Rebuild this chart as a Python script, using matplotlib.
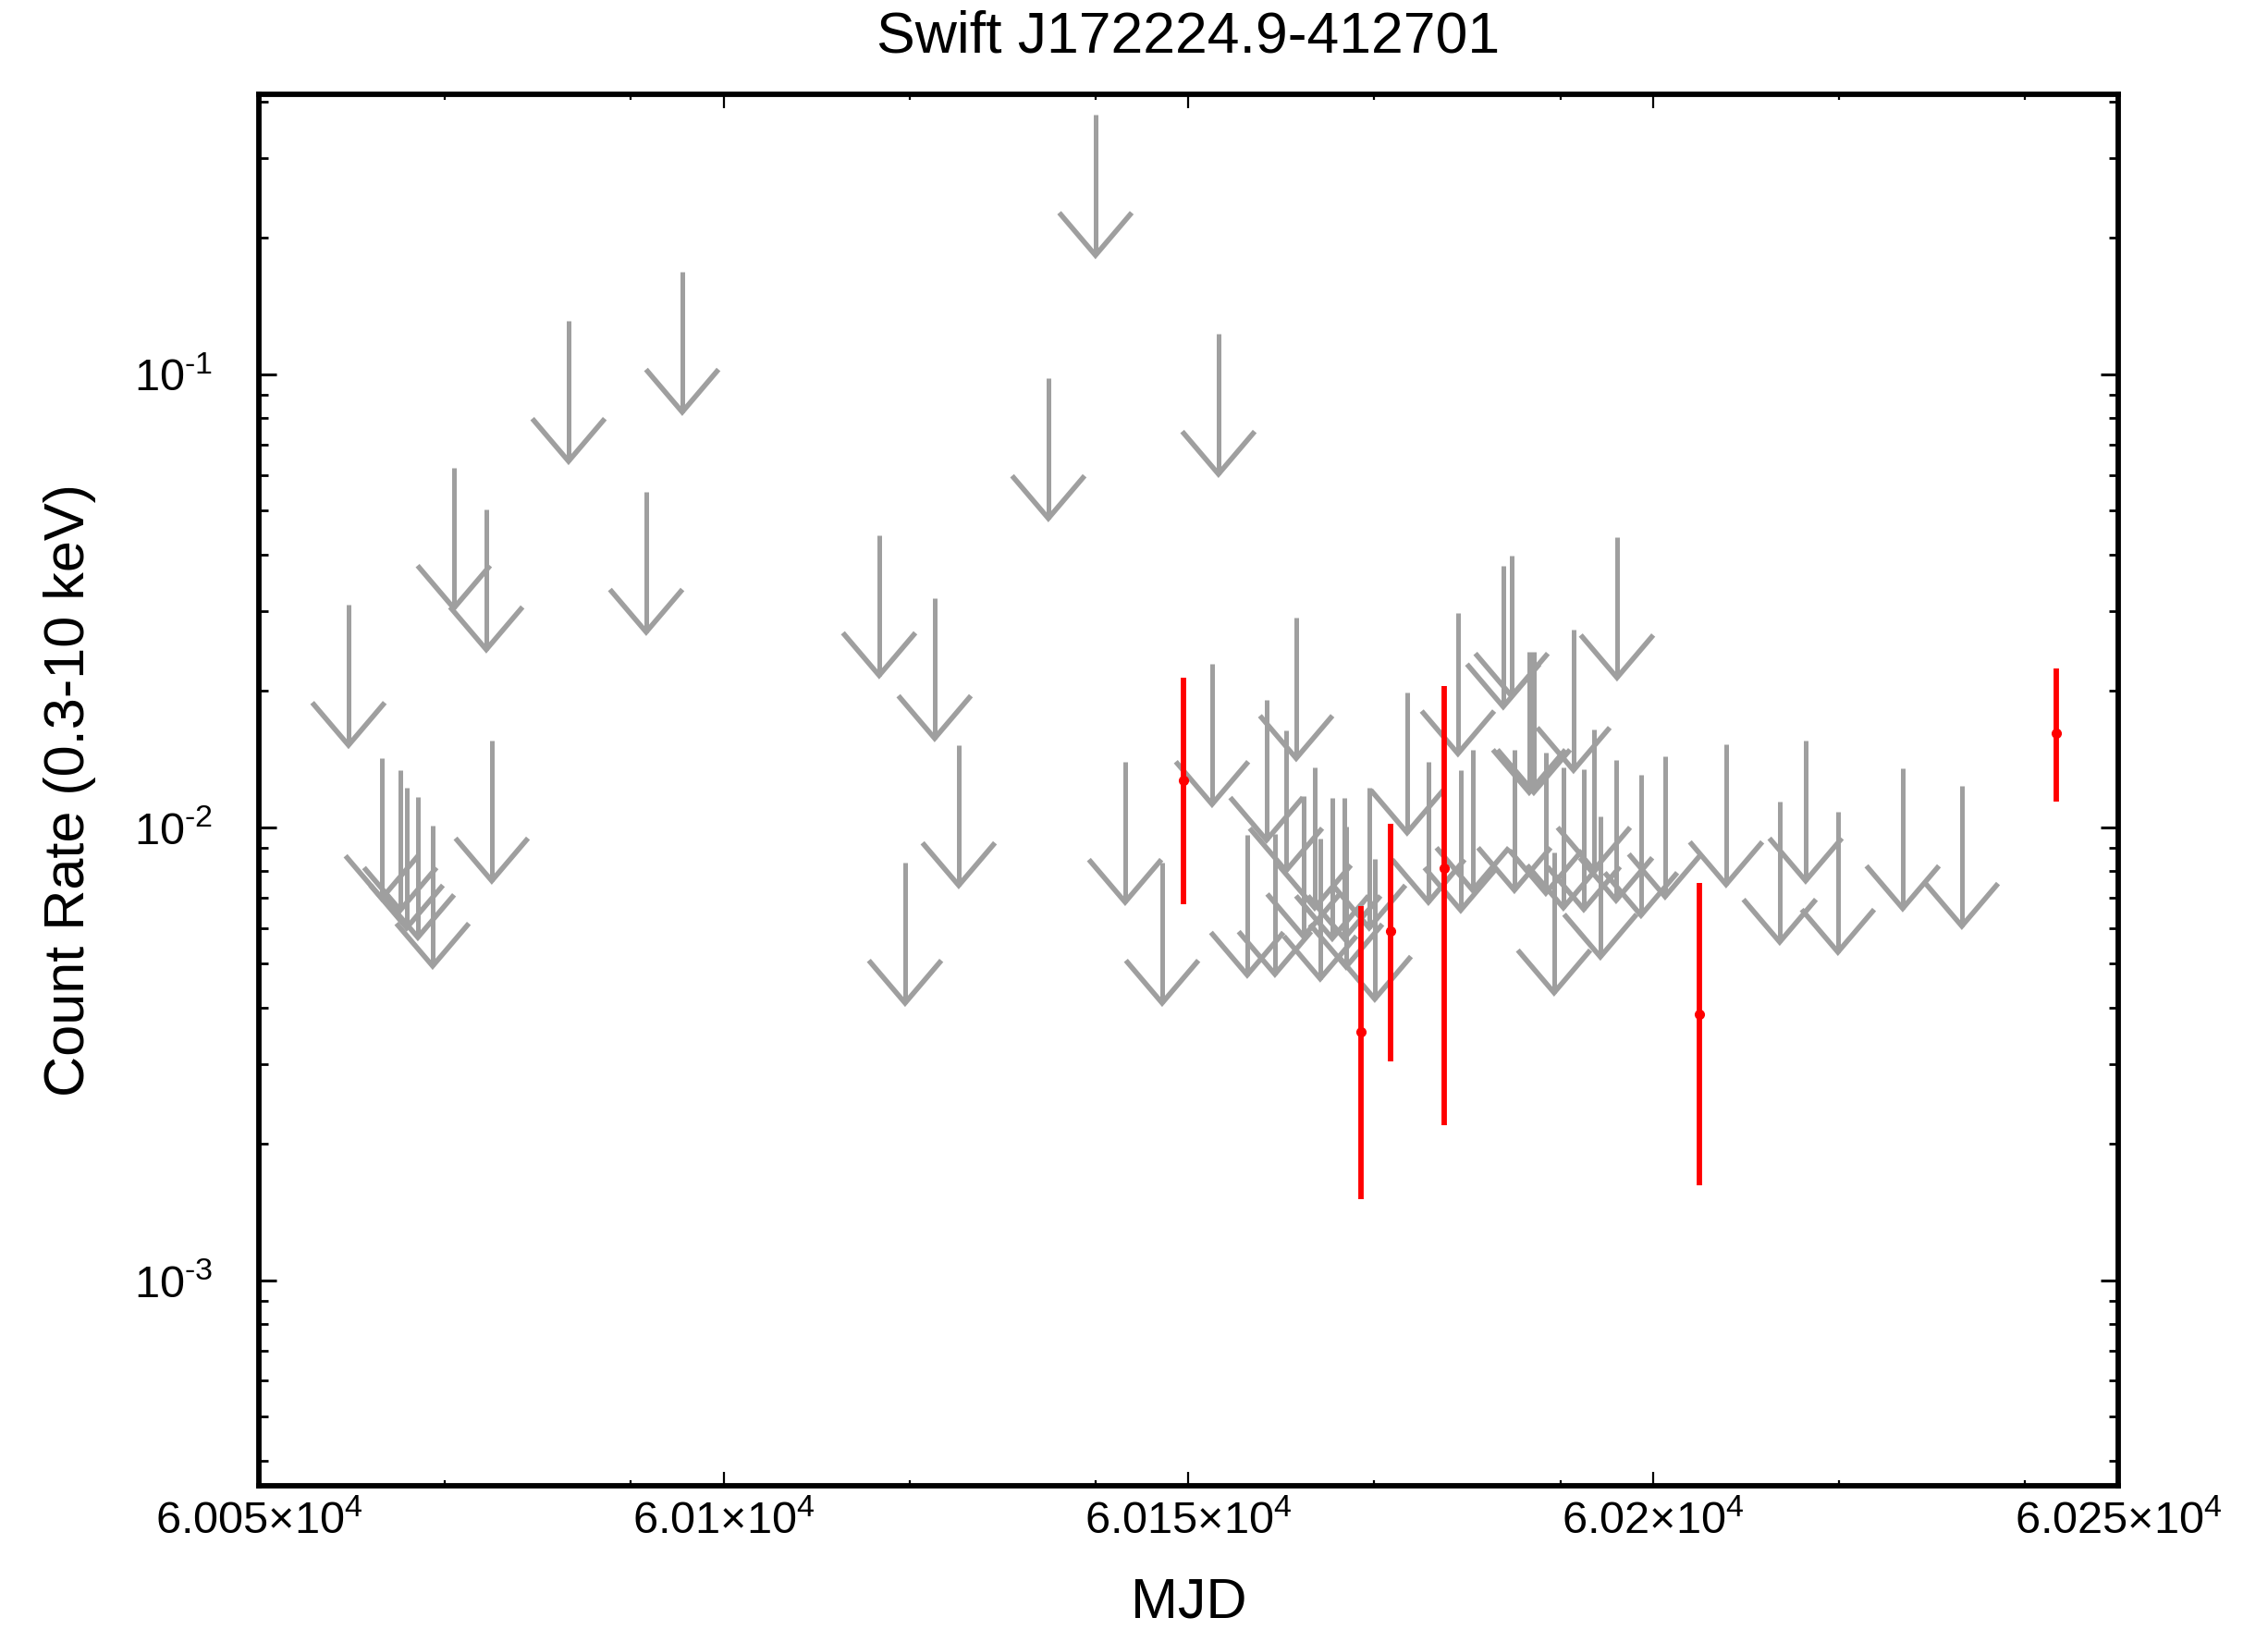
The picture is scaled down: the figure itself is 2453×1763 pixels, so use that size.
import matplotlib.pyplot as plt
import numpy as np
from matplotlib.ticker import FixedLocator, FuncFormatter, LogLocator, NullFormatter

plt.rcParams['font.family'] = ['Liberation Sans', 'DejaVu Sans']
plt.rcParams['mathtext.fontset'] = 'custom'
plt.rcParams['mathtext.rm'] = 'Liberation Sans'
plt.rcParams['mathtext.it'] = 'Liberation Sans:italic'
plt.rcParams['mathtext.bf'] = 'Liberation Sans:bold'

# upper limits: MJD and count rate at the top of each arrow
ul_mjd = [60059.65, 60063.23, 60065.22, 60065.91, 60067.11, 60068.70, 60070.98, 60074.47,
          60075.06, 60083.32, 60091.67, 60095.55, 60116.73, 60122.70, 60125.29, 60119.52,
          60134.93, 60140.00, 60153.23, 60143.19, 60147.17, 60152.54, 60156.32, 60158.40,
          60159.30, 60160.49, 60161.59, 60162.38, 60163.58, 60164.17, 60165.47, 60166.76,
          60166.96, 60169.44, 60170.04, 60173.52, 60175.81, 60178.99, 60179.29, 60180.58,
          60183.86, 60184.76, 60185.06, 60186.65, 60187.15, 60188.44, 60189.33, 60190.33,
          60191.42, 60192.52, 60193.61, 60194.31, 60196.00, 60196.10, 60198.68, 60201.27,
          60207.83, 60213.60, 60216.39, 60219.86, 60226.83, 60233.19]
ul_rate = [0.0310, 0.01423, 0.01340, 0.01225, 0.01167, 0.01009, 0.0622, 0.0504,
           0.01556, 0.1313, 0.0551, 0.1686, 0.0442, 0.0321, 0.01520, 0.00836,
           0.0982, 0.374, 0.1230, 0.01396, 0.00836, 0.02296, 0.00964, 0.01914,
           0.00968, 0.01637, 0.0290, 0.01172, 0.01357, 0.00946, 0.01161, 0.01161,
           0.01005, 0.01225, 0.00853, 0.01987, 0.01396, 0.0297, 0.01340, 0.01483,
           0.0377, 0.0398, 0.01483, 0.0244, 0.0244, 0.01462, 0.00881, 0.01357,
           0.0273, 0.01346, 0.01644, 0.01057, 0.01409, 0.0437, 0.01306, 0.01436,
           0.01527, 0.01140, 0.01556, 0.01083, 0.01352, 0.01236]

# detections with asymmetric errors
det_mjd = [60149.45, 60168.55, 60171.73, 60177.50, 60204.95, 60243.33]
det_rate = [0.0127, 0.00354, 0.00590, 0.00813, 0.00386, 0.01615]
det_err_pos = [0.0087, 0.00317, 0.00429, 0.01237, 0.00366, 0.00629]
det_err_neg = [0.00595, 0.00203, 0.00285, 0.00593, 0.00224, 0.00475]

x_major = [60050, 60100, 60150, 60200, 60250]
x_minor = [60070, 60090, 60120, 60140, 60170, 60190, 60220, 60240]

ARROW_DEC = 0.31   # arrow length in decades
HEAD_DEC = 0.094   # arrow head height in decades
HEAD_HALF = 3.9    # arrow head half width in days
GRAY = '#9f9f9f'

fig = plt.figure(figsize=(24.53, 17.63), dpi=100)
ax = fig.add_axes([0.1141, 0.0885, 0.8198, 0.8536])

for x, y in zip(ul_mjd, ul_rate):
    y_end = y * 10 ** (-ARROW_DEC)
    y_arm = y_end * 10 ** HEAD_DEC
    ax.plot([x, x], [y, y_end], color=GRAY, lw=3.6, solid_capstyle='butt', zorder=2)
    ax.plot([x - HEAD_HALF, x, x + HEAD_HALF], [y_arm, y_end, y_arm], color=GRAY, lw=4.0,
            solid_joinstyle='miter', solid_capstyle='butt', zorder=2)

ax.errorbar(det_mjd, det_rate, yerr=[det_err_neg, det_err_pos], fmt='o', color='red',
            ms=7, elinewidth=4.2, capsize=0, zorder=3)

ax.set_yscale('log')
ax.set_xlim(60050, 60250)
ax.set_ylim(3.52e-4, 0.415)

ax.xaxis.set_major_locator(FixedLocator(x_major))
ax.xaxis.set_minor_locator(FixedLocator(x_minor))


def sci_label(v, pos):
    m = v / 1e4
    return r'$%s{\times}10^{4}$' % ('%g' % m)


def pow_label(v, pos):
    e = int(round(np.log10(v)))
    if e < 0:
        return r'$10^{\text{-%d}}$' % (-e)
    return r'$10^{%d}$' % e


ax.xaxis.set_major_formatter(FuncFormatter(sci_label))
ax.yaxis.set_major_locator(LogLocator(base=10, numticks=10))
ax.yaxis.set_minor_locator(LogLocator(base=10, subs=np.arange(2, 10), numticks=20))
ax.yaxis.set_major_formatter(FuncFormatter(pow_label))
ax.yaxis.set_minor_formatter(NullFormatter())

for s in ax.spines.values():
    s.set_linewidth(4.2)

ax.tick_params(which='both', direction='in', top=True, right=True, labelsize=35)
ax.tick_params(axis='x', which='major', length=11, width=1.6, pad=12)
ax.tick_params(axis='x', which='minor', length=4, width=1.6)
ax.tick_params(axis='y', which='major', length=14, width=2.2, pad=36)
ax.tick_params(axis='y', which='minor', length=7, width=2.0)

ax.set_title('Swift J172224.9-412701', fontsize=45, y=1.0245, va='baseline')
ax.set_xlabel('MJD', fontsize=44, va='baseline')
ax.xaxis.set_label_coords(0.5, -0.0944)
ax.set_ylabel('Count Rate (0.3-10 keV)', fontsize=44, va='baseline')
ax.yaxis.set_label_coords(-0.094, 0.5)

fig.savefig('out.png', dpi=100)
